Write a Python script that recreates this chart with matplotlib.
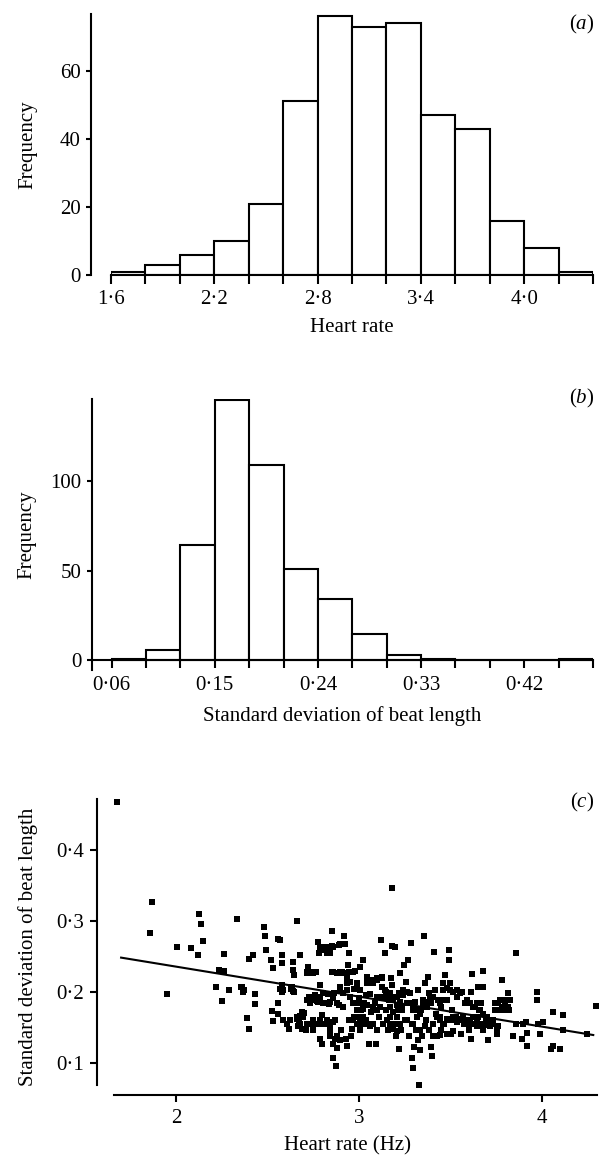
import numpy as np
import matplotlib
matplotlib.use('Agg')
import matplotlib.pyplot as plt

plt.rcParams['font.family'] = ['Liberation Serif', 'DejaVu Serif']
plt.rcParams['font.size'] = 15
plt.rcParams['mathtext.fontset'] = 'custom'
plt.rcParams['mathtext.rm'] = 'Liberation Serif'
plt.rcParams['mathtext.it'] = 'Liberation Serif:italic'

# -------------------- data --------------------
# (a) heart rate histogram
hr_edges = [1.6, 1.8, 2.0, 2.2, 2.4, 2.6, 2.8, 3.0, 3.2, 3.4, 3.6, 3.8, 4.0, 4.2, 4.4]
hr_counts = [1, 3, 6, 10, 21, 51, 76, 73, 74, 47, 43, 16, 8, 1]
hr_ticklabels = ['1·6', '', '', '2·2', '', '', '2·8', '', '', '3·4', '', '', '4·0', '', '']
freq_ticks_a = [0, 20, 40, 60]

# (b) sd of beat length histogram
sd_edges = [0.06, 0.09, 0.12, 0.15, 0.18, 0.21, 0.24, 0.27, 0.30, 0.33, 0.36, 0.39, 0.42, 0.45, 0.48]
sd_counts = [1, 6, 64, 145, 109, 51, 34, 15, 3, 1, 0, 0, 0, 1]
sd_ticklabels = ['0·06', '', '', '0·15', '', '', '0·24', '', '', '0·33', '', '', '0·42', '', '']
freq_ticks_b = [0, 50, 100]

# (c) scatter: heart rate (Hz) vs sd of beat length
points_c = [
    (1.680, 0.467), (1.867, 0.326), (1.860, 0.283), (1.950, 0.197), (2.005, 0.263),
    (2.080, 0.261), (2.120, 0.252), (2.127, 0.309), (2.135, 0.295), (2.150, 0.271),
    (2.220, 0.206), (2.233, 0.231), (2.250, 0.187), (2.264, 0.229), (2.264, 0.253),
    (2.288, 0.202), (2.333, 0.302), (2.357, 0.206), (2.368, 0.200), (2.388, 0.163),
    (2.400, 0.147), (2.400, 0.246), (2.420, 0.251), (2.430, 0.197), (2.430, 0.183),
    (2.480, 0.291), (2.485, 0.278), (2.490, 0.259), (2.517, 0.244), (2.525, 0.173),
    (2.530, 0.234), (2.528, 0.159), (2.555, 0.184), (2.557, 0.169), (2.560, 0.274),
    (2.567, 0.273), (2.570, 0.204), (2.580, 0.200), (2.580, 0.251), (2.580, 0.240),
    (2.585, 0.160), (2.617, 0.147), (2.630, 0.204), (2.640, 0.230), (2.640, 0.242),
    (2.647, 0.223), (2.647, 0.200), (2.660, 0.162), (2.663, 0.300), (2.676, 0.251),
    (2.665, 0.152), (2.687, 0.147), (2.678, 0.166), (2.700, 0.170), (2.710, 0.146),
    (2.718, 0.228), (2.723, 0.235), (2.732, 0.190), (2.738, 0.155), (2.750, 0.146),
    (2.763, 0.228), (2.770, 0.187), (2.776, 0.270), (2.780, 0.255), (2.787, 0.209),
    (2.787, 0.133), (2.796, 0.167), (2.800, 0.127), (2.805, 0.184), (2.818, 0.263),
    (2.827, 0.254), (2.830, 0.197), (2.830, 0.155), (2.836, 0.183), (2.840, 0.146),
    (2.850, 0.228), (2.854, 0.285), (2.854, 0.264), (2.860, 0.107), (2.864, 0.198),
    (2.870, 0.134), (2.870, 0.160), (2.874, 0.096), (2.880, 0.121), (2.887, 0.227),
    (2.889, 0.181), (2.892, 0.266), (2.896, 0.206), (2.900, 0.146), (2.907, 0.228),
    (2.913, 0.179), (2.920, 0.279), (2.923, 0.267), (2.927, 0.134), (2.932, 0.124),
    (2.932, 0.202), (2.936, 0.221), (2.940, 0.238), (2.944, 0.255), (2.947, 0.160),
    (2.950, 0.193), (2.954, 0.137), (2.960, 0.148), (2.970, 0.165), (2.975, 0.204),
    (2.978, 0.184), (2.980, 0.229), (2.987, 0.209), (2.993, 0.155), (2.998, 0.191),
    (3.002, 0.165), (3.005, 0.146), (3.010, 0.174), (3.020, 0.245), (3.024, 0.155),
    (3.030, 0.184), (3.036, 0.196), (3.040, 0.160), (3.050, 0.212), (3.056, 0.127),
    (3.058, 0.197), (3.063, 0.171), (3.075, 0.214), (3.078, 0.155), (3.087, 0.184),
    (3.093, 0.127), (3.096, 0.217), (3.100, 0.146), (3.100, 0.193), (3.110, 0.165),
    (3.120, 0.273), (3.124, 0.221), (3.130, 0.193), (3.133, 0.155), (3.142, 0.255),
    (3.148, 0.200), (3.150, 0.174), (3.157, 0.146), (3.162, 0.188), (3.170, 0.165),
    (3.175, 0.220), (3.180, 0.346), (3.182, 0.265), (3.183, 0.210), (3.187, 0.193),
    (3.193, 0.155), (3.197, 0.263), (3.200, 0.137), (3.206, 0.181), (3.210, 0.165),
    (3.217, 0.198), (3.220, 0.120), (3.224, 0.226), (3.230, 0.146), (3.235, 0.174),
    (3.242, 0.202), (3.246, 0.237), (3.250, 0.160), (3.257, 0.214), (3.260, 0.184),
    (3.270, 0.245), (3.273, 0.137), (3.280, 0.198), (3.282, 0.268), (3.288, 0.155),
    (3.290, 0.106), (3.293, 0.174), (3.296, 0.092), (3.300, 0.122), (3.306, 0.186),
    (3.310, 0.146), (3.315, 0.165), (3.320, 0.132), (3.324, 0.202), (3.330, 0.068),
    (3.333, 0.118), (3.337, 0.174), (3.342, 0.137), (3.350, 0.188), (3.355, 0.279),
    (3.360, 0.212), (3.366, 0.160), (3.370, 0.179), (3.375, 0.221), (3.380, 0.146),
    (3.384, 0.198), (3.393, 0.184), (3.394, 0.122), (3.400, 0.110), (3.406, 0.155),
    (3.410, 0.256), (3.415, 0.202), (3.420, 0.169), (3.424, 0.137), (3.430, 0.188),
    (3.440, 0.165), (3.446, 0.146), (3.450, 0.179), (3.460, 0.202), (3.466, 0.155),
    (3.470, 0.224), (3.480, 0.188), (3.485, 0.160), (3.490, 0.244), (3.493, 0.259),
    (3.497, 0.212), (3.500, 0.141), (3.506, 0.174), (3.515, 0.200), (3.520, 0.160),
    (3.528, 0.165), (3.534, 0.193), (3.543, 0.160), (3.550, 0.198), (3.560, 0.141),
    (3.566, 0.165), (3.575, 0.155), (3.580, 0.184), (3.594, 0.160), (3.600, 0.146),
    (3.610, 0.200), (3.612, 0.134), (3.620, 0.225), (3.625, 0.165), (3.634, 0.179),
    (3.643, 0.151), (3.650, 0.207), (3.652, 0.165), (3.658, 0.174), (3.660, 0.155),
    (3.667, 0.184), (3.676, 0.206), (3.680, 0.229), (3.685, 0.155), (3.694, 0.160),
    (3.707, 0.132), (3.716, 0.151), (3.734, 0.160), (3.743, 0.174), (3.752, 0.141),
    (3.758, 0.184), (3.760, 0.151), (3.770, 0.188), (3.780, 0.216), (3.790, 0.174),
    (3.800, 0.188), (3.807, 0.174), (3.816, 0.198), (3.820, 0.174), (3.825, 0.188),
    (3.843, 0.137), (3.856, 0.255), (3.860, 0.155), (3.890, 0.133), (3.898, 0.155),
    (3.912, 0.158), (3.916, 0.123), (3.920, 0.142), (3.970, 0.200), (3.970, 0.188),
    (3.976, 0.155), (3.990, 0.141), (4.007, 0.157), (4.050, 0.120), (4.060, 0.172),
    (4.060, 0.123), (4.100, 0.120), (4.116, 0.167), (4.116, 0.146), (4.244, 0.141),
    (4.295, 0.180),
    (2.372, 0.202), (2.361, 0.207), (2.579, 0.210), (2.583, 0.202), (2.632, 0.207),
    (2.641, 0.201), (2.659, 0.165), (2.687, 0.172), (2.696, 0.165), (2.674, 0.160),
    (2.714, 0.226), (2.732, 0.228), (2.750, 0.227), (2.725, 0.193), (2.750, 0.188),
    (2.760, 0.195), (2.787, 0.160), (2.805, 0.155), (2.823, 0.160), (2.842, 0.155),
    (2.860, 0.158), (2.778, 0.186), (2.814, 0.184), (2.842, 0.186), (2.860, 0.191),
    (2.882, 0.184), (2.787, 0.263), (2.801, 0.259), (2.832, 0.260), (2.842, 0.254),
    (2.860, 0.263), (2.889, 0.266), (2.896, 0.267), (2.860, 0.228), (2.878, 0.227),
    (2.896, 0.228), (2.914, 0.227), (2.933, 0.221), (2.947, 0.228), (2.969, 0.228),
    (2.933, 0.212), (2.951, 0.214), (2.987, 0.212), (3.005, 0.202), (2.969, 0.160),
    (2.987, 0.155), (3.005, 0.160), (3.024, 0.165), (3.042, 0.155), (3.060, 0.151),
    (3.042, 0.212), (3.069, 0.216), (3.097, 0.220), (3.124, 0.219), (3.142, 0.202),
    (3.151, 0.193), (3.169, 0.198), (3.188, 0.188), (3.206, 0.193), (3.224, 0.186),
    (3.242, 0.195), (3.261, 0.200), (3.151, 0.160), (3.169, 0.155), (3.188, 0.148),
    (3.206, 0.144), (3.224, 0.155), (3.279, 0.184), (3.297, 0.179), (3.315, 0.174),
    (3.333, 0.169), (3.352, 0.181), (3.370, 0.186), (3.388, 0.191), (3.406, 0.193),
    (3.443, 0.184), (3.461, 0.188), (3.261, 0.160), (3.297, 0.155), (3.333, 0.146),
    (3.361, 0.151), (3.424, 0.165), (3.443, 0.160), (3.461, 0.155), (3.479, 0.162),
    (3.497, 0.160), (3.515, 0.165), (3.534, 0.158), (3.552, 0.162), (3.570, 0.160),
    (3.588, 0.155), (3.607, 0.160), (3.625, 0.155), (3.643, 0.160), (3.461, 0.212),
    (3.479, 0.205), (3.497, 0.202), (3.534, 0.202), (3.561, 0.200), (3.643, 0.184),
    (3.661, 0.174), (3.679, 0.169), (3.698, 0.165), (3.716, 0.160), (3.743, 0.184),
    (3.761, 0.174), (3.780, 0.179), (3.798, 0.184), (3.816, 0.179), (3.588, 0.188),
    (3.607, 0.184), (3.625, 0.179), (3.406, 0.137), (3.443, 0.139), (3.479, 0.141),
    (3.515, 0.144), (3.679, 0.146), (3.698, 0.153), (3.734, 0.155), (3.752, 0.146),
    (2.605, 0.155), (2.623, 0.160), (2.678, 0.155), (2.714, 0.155), (2.750, 0.160),
    (2.769, 0.155), (2.842, 0.137), (2.860, 0.127), (2.878, 0.137), (2.896, 0.132),
    (2.714, 0.188), (2.732, 0.184), (2.787, 0.193), (2.805, 0.198), (3.005, 0.184),
    (3.024, 0.176), (3.042, 0.181), (3.078, 0.179), (3.097, 0.174), (3.115, 0.179),
    (3.169, 0.179), (3.188, 0.172), (3.215, 0.174), (3.233, 0.179), (3.005, 0.235),
    (3.042, 0.221), (3.078, 0.212), (3.124, 0.207), (2.896, 0.202), (2.914, 0.198),
    (2.951, 0.193), (2.969, 0.184), (2.987, 0.174),
]
fit_hr = [1.70, 4.28]
fit_sd = [0.248, 0.139]
c_xticks = [2, 3, 4]
c_xticklabels = ['2', '3', '4']
c_yticks = [0.1, 0.2, 0.3, 0.4]
c_yticklabels = ['0·1', '0·2', '0·3', '0·4']

# -------------------- figure --------------------
W, H = 603, 1161
fig = plt.figure(figsize=(W / 100, H / 100), dpi=100)

def box(l, t, r, b):
    # pixel box (left, top, right, bottom) -> figure fraction
    return [l / W, 1 - b / H, (r - l) / W, (b - t) / H]

LW = 1.5

def clean(ax):
    for s in ['top', 'right']:
        ax.spines[s].set_visible(False)
    ax.spines['left'].set_linewidth(LW)
    ax.spines['bottom'].set_linewidth(LW)

# ---- (a) ----
ax = fig.add_axes(box(111, 14, 593, 275))
ax.bar(hr_edges[:-1], hr_counts, width=np.diff(hr_edges), align='edge',
       facecolor='white', edgecolor='black', lw=LW, zorder=2)
ax.set_xlim(hr_edges[0], hr_edges[-1])
ax.set_ylim(0, 76.7)
ax.set_xticks(hr_edges)
ax.set_xticklabels(hr_ticklabels)
ax.set_yticks(freq_ticks_a)
clean(ax)
ax.spines['left'].set_position(('outward', 14.4))
ax.tick_params(axis='x', length=6.5, width=LW, pad=4)
ax.tick_params(axis='y', length=3.6, width=LW, pad=4)
ax.set_xlabel('Heart rate', labelpad=7)
ax.set_ylabel('Frequency', labelpad=16)

# ---- (b) ----
ax = fig.add_axes(box(92, 399, 593, 670))
ax.bar(sd_edges[:-1], sd_counts, width=np.diff(sd_edges), align='edge',
       facecolor='white', edgecolor='black', lw=LW, zorder=2)
ax.set_xlim(0.0428, sd_edges[-1])
ax.set_ylim(-5.3, 145.5)
ax.set_xticks(sd_edges)
ax.set_xticklabels(sd_ticklabels)
ax.set_yticks(freq_ticks_b)
clean(ax)
ax.spines['bottom'].set_position(('data', 0))
ax.tick_params(axis='x', length=6, width=LW, pad=5)
ax.tick_params(axis='y', length=3.6, width=LW, pad=4)
ax.set_xlabel('Standard deviation of beat length', labelpad=8)
ax.set_ylabel('Frequency', labelpad=10)

# ---- (c) ----
ax = fig.add_axes(box(97, 799, 597, 1095.3))
pts = np.array(points_c)
ax.plot(pts[:, 0], pts[:, 1], 's', ms=4.0, color='black', mew=0, clip_on=False)
ax.plot(fit_hr, fit_sd, '-', color='black', lw=1.5)
ax.set_xlim(1.5683, 4.3005)
ax.set_ylim(0.0541, 0.4714)
ax.set_xticks(c_xticks)
ax.set_xticklabels(c_xticklabels)
ax.set_yticks(c_yticks)
ax.set_yticklabels(c_yticklabels)
clean(ax)
ax.spines['bottom'].set_bounds(1.661, 4.30)
ax.spines['left'].set_bounds(0.0686, 0.4714)
ax.tick_params(axis='x', length=5, width=LW, pad=5)
ax.tick_params(axis='y', length=5, width=LW, pad=4.5)
ax.set_xlabel('Heart rate (Hz)', labelpad=6)
ax.set_ylabel('Standard deviation of beat length', labelpad=13)

# panel letters
for lab, y in [('a', 24), ('b', 398), ('c', 802)]:
    fig.text(582 / W, 1 - y / H, r'$(\mathit{' + lab + r'})$', ha='center', va='center', fontsize=15)

fig.savefig('out.png', dpi=100)
